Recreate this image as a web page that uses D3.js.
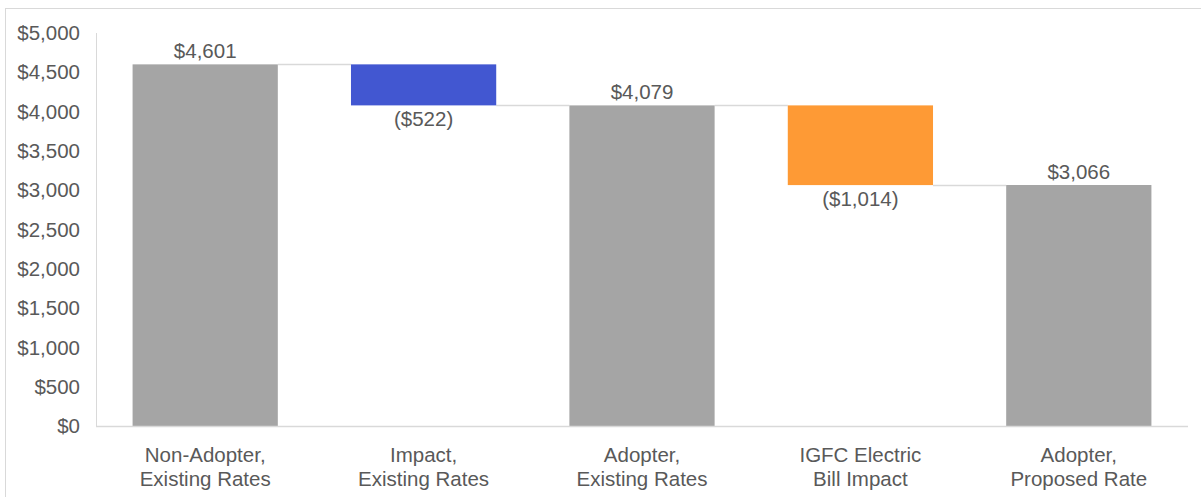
<!doctype html>
<html>
<head>
<meta charset="utf-8">
<script src="https://cdnjs.cloudflare.com/ajax/libs/d3/7.8.5/d3.min.js"></script>
<style>
  body { margin: 0; background: #fff; }
  svg { display: block; font-family: "Liberation Sans", Arial, sans-serif; }
  .lbl { fill: #595959; font-size: 20.5px; }
</style>
</head>
<body>
<svg id="chart" width="1201" height="497"></svg>
<script>
var categories = [["Non-Adopter,", "Existing Rates"], ["Impact,", "Existing Rates"],
  ["Adopter,", "Existing Rates"], ["IGFC Electric", "Bill Impact"], ["Adopter,", "Proposed Rate"]];
var values = [4601, -522, 4079, -1014, 3066];
var kinds = ["total", "delta", "total", "delta", "total"];
var barColors = ["#a5a5a5", "#4257d1", "#a5a5a5", "#fe9a35", "#a5a5a5"];
var yTicks = [0, 500, 1000, 1500, 2000, 2500, 3000, 3500, 4000, 4500, 5000];

var svg = d3.select("#chart");

// frame
svg.append("rect").attr("x", 5.5).attr("y", 8.5).attr("width", 1300).attr("height", 600)
  .attr("fill", "none").attr("stroke", "#d9d9d9");

var x = d3.scaleBand().domain(d3.range(values.length)).range([96, 1188]).paddingInner(0.335).paddingOuter(0.1675);
var y = d3.scaleLinear().domain([0, 5000]).range([426, 33]);

var fmt = d3.format("$,");
function label(v) { return v < 0 ? "(" + fmt(-v) + ")" : fmt(v); }

// build start/end per bar
var run = 0;
var bars = values.map(function (v, i) {
  var b;
  if (kinds[i] === "total") { b = { lo: 0, hi: v, end: v }; run = v; }
  else { var s = run; run = run + v; b = { lo: Math.min(s, run), hi: Math.max(s, run), end: run }; }
  b.i = i; b.v = v;
  return b;
});

// axes
svg.append("line").attr("x1", 96.5).attr("x2", 96.5).attr("y1", y(5000)).attr("y2", y(0))
  .attr("stroke", "#d9d9d9");

svg.selectAll("text.ytick").data(yTicks).enter().append("text")
  .attr("class", "lbl ytick").attr("x", 80).attr("y", d => y(d)).attr("dy", "0.35em")
  .attr("text-anchor", "end").text(d => fmt(d));

// connectors
svg.selectAll("line.conn").data(bars.slice(0, -1)).enter().append("line")
  .attr("x1", d => x(d.i) + x.bandwidth()).attr("x2", d => x(d.i + 1))
  .attr("y1", d => Math.round(y(d.end)) + 0.5).attr("y2", d => Math.round(y(d.end)) + 0.5)
  .attr("stroke", "#d9d9d9").attr("stroke-width", 1.5);

svg.selectAll("rect.bar").data(bars).enter().append("rect")
  .attr("x", d => x(d.i)).attr("width", x.bandwidth())
  .attr("y", d => y(d.hi)).attr("height", d => y(d.lo) - y(d.hi))
  .attr("fill", d => barColors[d.i]);

svg.append("line").attr("x1", 96).attr("x2", 1188).attr("y1", 426.5).attr("y2", 426.5)
  .attr("stroke", "#d9d9d9").attr("stroke-width", 1.5);

// value labels
svg.selectAll("text.val").data(bars).enter().append("text")
  .attr("class", "lbl val").attr("text-anchor", "middle")
  .attr("x", d => x(d.i) + x.bandwidth() / 2)
  .attr("y", d => d.v < 0 ? y(d.lo) + 21 : y(d.hi) - 6)
  .text(d => label(d.v));

// category labels
var cat = svg.selectAll("text.cat").data(categories).enter().append("text")
  .attr("class", "lbl cat").attr("text-anchor", "middle");
cat.selectAll("tspan").data((d, i) => d.map(t => ({ t: t, i: i }))).enter().append("tspan")
  .attr("x", d => x(d.i) + x.bandwidth() / 2)
  .attr("y", (d, j) => 462 + j * 23.5)
  .text(d => d.t);
</script>
</body>
</html>
